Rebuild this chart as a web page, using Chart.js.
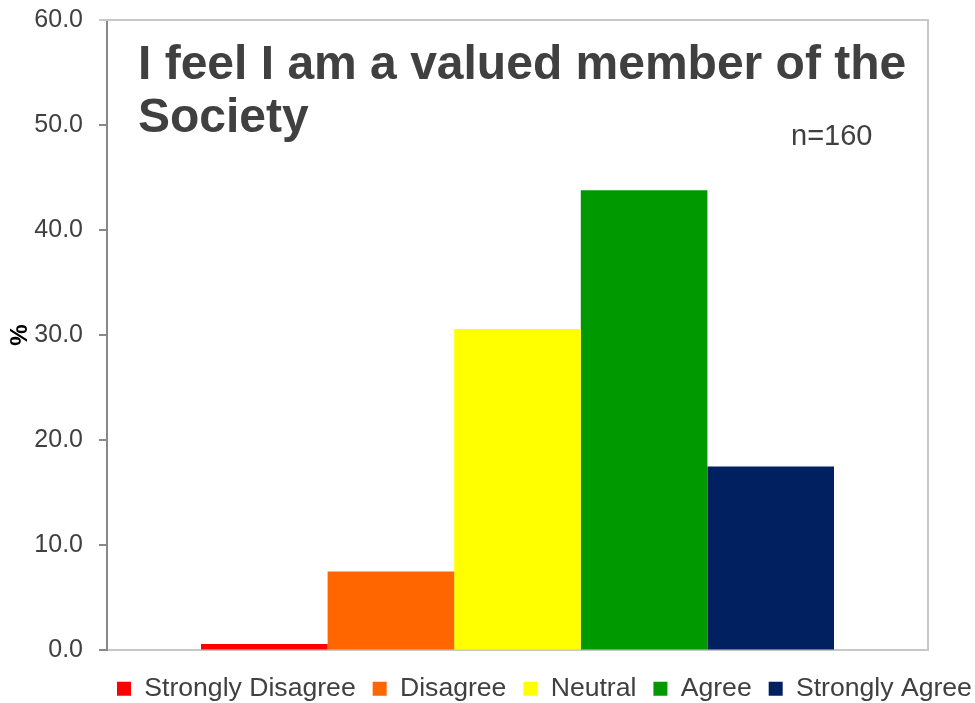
<!DOCTYPE html>
<html>
<head>
<meta charset="utf-8">
<script src="https://cdn.jsdelivr.net/npm/chart.js@4"></script>
<style>
html,body{margin:0;padding:0;background:#fff;}
#wrap{width:975px;height:703px;}
</style>
</head>
<body>
<div id="wrap"><canvas id="c" width="975" height="703"></canvas></div>
<script>
const categories = ["Strongly Disagree", "Disagree", "Neutral", "Agree", "Strongly Agree"];
const values = [0.6, 7.5, 30.6, 43.8, 17.5];
const colors = ["#FF0000", "#FF6600", "#FFFF00", "#009900", "#002060"];
const yTicks = [0, 10, 20, 30, 40, 50, 60];
const titleLines = ["I feel I am a valued member of the", "Society"];
const noteText = "n=160";

const FONT = "'Liberation Sans', Arial, sans-serif";
const TXT = "#404040";
const LEGEND_PAD = 17;

const datasets = categories.map((name, i) => ({
  label: name,
  data: [values[i]],
  backgroundColor: colors[i],
  borderWidth: 0,
  categoryPercentage: 0.771,
  barPercentage: 1.0
}));

const framePlugin = {
  id: 'frame',
  afterLayout(chart) {
    const lg = chart.legend;
    if (lg) {
      lg.left = 117 - LEGEND_PAD;
      lg.right = 1300;
      lg.width = lg.right - lg.left;
    }
  },
  beforeDatasetsDraw(chart) {
    const {ctx, chartArea: a} = chart;
    ctx.save();
    ctx.strokeStyle = '#c8c8c8';
    ctx.lineWidth = 2;
    ctx.beginPath();
    ctx.moveTo(a.left - 8, a.top);
    ctx.lineTo(a.right, a.top);
    ctx.lineTo(a.right, a.bottom);
    ctx.stroke();
    ctx.restore();
  },
  afterDraw(chart) {
    const {ctx, chartArea: a} = chart;
    ctx.save();
    ctx.fillStyle = TXT;
    ctx.textBaseline = 'alphabetic';
    ctx.textAlign = 'left';
    ctx.font = "bold 48px " + FONT;
    ctx.fillText(titleLines[0], a.left + 31, a.top + 59);
    ctx.fillText(titleLines[1], a.left + 31, a.top + 112);
    ctx.font = "29px " + FONT;
    ctx.fillText(noteText, a.left + 684, a.top + 125);
    ctx.restore();
  }
};

new Chart(document.getElementById('c'), {
  type: 'bar',
  data: { labels: [""], datasets },
  options: {
    responsive: false,
    animation: false,
    layout: { padding: { left: 0, right: 0, top: 20, bottom: -9 } },
    plugins: {
      legend: {
        position: 'bottom',
        align: 'start',
        labels: {
          font: { family: FONT, size: 26.6 },
          color: TXT,
          boxWidth: 14,
          boxHeight: 14,
          padding: LEGEND_PAD
        }
      },
      tooltip: { enabled: false }
    },
    scales: {
      x: {
        grid: { display: false },
        border: { display: true, color: '#c8c8c8', width: 2 },
        ticks: { display: false }
      },
      y: {
        min: 0,
        max: 60,
        afterFit(scale) { scale.width = 107; scale.paddingTop = 0; scale.paddingBottom = 0; },
        afterBuildTicks(scale) { scale.ticks = yTicks.map(v => ({ value: v })); },
        ticks: {
          font: { family: FONT, size: 25 },
          color: TXT,
          padding: 16,
          callback: v => Number(v).toFixed(1)
        },
        grid: { drawOnChartArea: false, tickLength: 8, color: '#888888', tickColor: '#888888', lineWidth: 2 },
        border: { display: true, color: '#888888', width: 2 },
        title: { display: true, text: '%', font: { family: FONT, size: 24, weight: 'bold' }, color: '#000', padding: { top: 6, bottom: 0 } }
      },
      yRight: {
        position: 'right',
        min: 0,
        max: 60,
        afterFit(scale) { scale.width = 47; scale.paddingTop = 0; scale.paddingBottom = 0; },
        ticks: { display: false },
        grid: { display: false },
        border: { display: false }
      }
    }
  },
  plugins: [framePlugin]
});
</script>
</body>
</html>
